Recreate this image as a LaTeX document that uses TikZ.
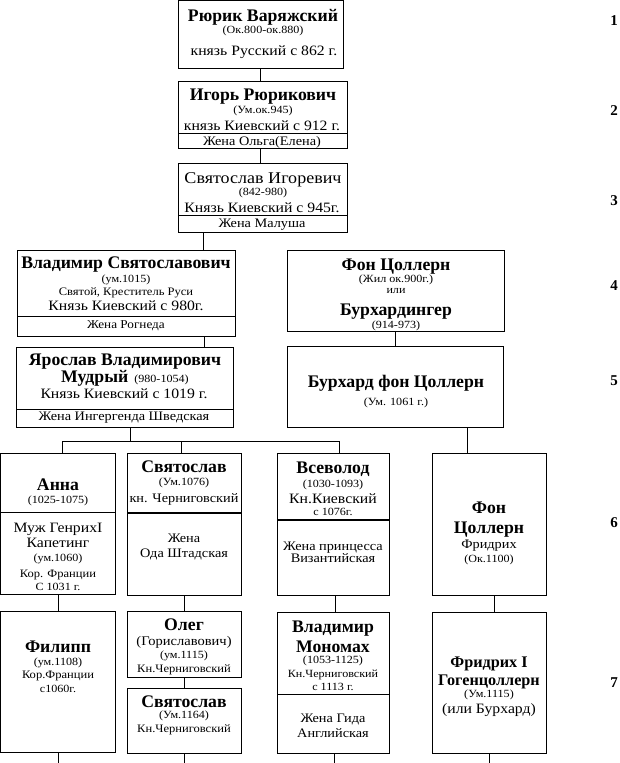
\documentclass[tikz,border=0pt]{standalone}
\usepackage{fontspec}
\setmainfont[FakeStretch=1.1]{Liberation Serif}
\newfontfamily\bname{Liberation Serif}
\begin{document}
\begin{tikzpicture}[x=1pt,y=-1pt,
  box/.style={draw,line width=1pt,inner sep=0pt,outer sep=0pt,anchor=north west},
  conn/.style={line width=1pt},
  thick div/.style={line width=2.2pt},
  nm/.style={font=\bname\fontsize{17.7}{19}\selectfont\bfseries,inner sep=0pt,anchor=base},
  nmS/.style={font=\bname\fontsize{16.2}{18}\selectfont\bfseries,inner sep=0pt,anchor=base},
  rgL/.style={font=\fontsize{16.4}{18}\selectfont,inner sep=0pt,anchor=base},
  rg/.style={font=\fontsize{14.3}{16}\selectfont,inner sep=0pt,anchor=base},
  rgS/.style={font=\fontsize{13.2}{15}\selectfont,inner sep=0pt,anchor=base},
  md/.style={font=\fontsize{13}{14}\selectfont,inner sep=0pt,anchor=base},
  mdS/.style={font=\fontsize{12}{13}\selectfont,inner sep=0pt,anchor=base},
  xs/.style={font=\fontsize{11.4}{12}\selectfont,inner sep=0pt,anchor=base},
  sm/.style={font=\fontsize{11}{12}\selectfont,inner sep=0pt,anchor=base},
  num/.style={font=\bname\fontsize{15}{16}\selectfont\bfseries,inner sep=0pt,anchor=base}]
\newcommand\mkbox[5]{%
  \pgfmathsetmacro\mybw{#4-#2}\pgfmathsetmacro\mybh{#5-#3}%
  \node[box,minimum width=\mybw pt,minimum height=\mybh pt] (#1) at (#2,#3) {};}
\newcommand\T[5]{\node[#2] (#1) at (#3,#4) {#5};}
\useasboundingbox (0,0) rectangle (620,763);
% boxes
\mkbox{b1}{178}{0.5}{343}{68}
\mkbox{b2}{178}{81}{347}{148}
\mkbox{b3}{178}{163}{347}{232}
\mkbox{b4}{17}{250}{235}{336}
\mkbox{b5}{16}{347}{233}{427}
\mkbox{z1}{287}{250}{504}{331}
\mkbox{z2}{287}{346}{503}{427}
\mkbox{a6}{0.5}{453}{115}{594}
\mkbox{s6}{127}{453}{241}{595}
\mkbox{v6}{277}{453}{389}{595}
\mkbox{f6}{432}{453}{546}{595}
\mkbox{p7}{0.5}{611}{115}{752}
\mkbox{o7}{127}{611}{241}{677}
\mkbox{s7}{127}{688}{241}{753}
\mkbox{m7}{277}{612}{389}{753}
\mkbox{f7}{432}{612}{546}{753}
% dividers
\draw[conn] (b2.west |- 0,133) -- (b2.east |- 0,133);
\draw[conn] (b3.west |- 0,215) -- (b3.east |- 0,215);
\draw[conn] (b4.west |- 0,316) -- (b4.east |- 0,316);
\draw[conn] (b5.west |- 0,409) -- (b5.east |- 0,409);
\draw[conn] (a6.west |- 0,512) -- (a6.east |- 0,512);
\draw[thick div] (s6.west |- 0,513) -- (s6.east |- 0,513);
\draw[thick div] (v6.west |- 0,520) -- (v6.east |- 0,520);
\draw[conn] (m7.west |- 0,694) -- (m7.east |- 0,694);
% connector coordinates
\coordinate (x12) at (260,0);
\coordinate (x34) at (203,0);
\coordinate (x45) at (204,0);
\coordinate (xz) at (395,0);
\coordinate (xz6) at (467,0);
\coordinate (bus5) at (130,441);
\coordinate (busL) at (62,441);
\coordinate (busM) at (181,441);
\coordinate (busR) at (339,441);
\coordinate (xa) at (58,0);
\coordinate (xs) at (184,0);
\coordinate (xv) at (335,0);
\coordinate (xf) at (494,0);
\coordinate (ea) at (58,763);
\coordinate (es) at (184,763);
\coordinate (ev) at (334,763);
\coordinate (ef) at (489,763);
% connectors
\draw[conn] (b1.south -| x12) -- (b2.north -| x12);
\draw[conn] (b2.south -| x12) -- (b3.north -| x12);
\draw[conn] (b3.south -| x34) -- (b4.north -| x34);
\draw[conn] (b4.south -| x45) -- (b5.north -| x45);
\draw[conn] (z1.south -| xz) -- (z2.north -| xz);
\draw[conn] (z2.south -| xz6) -- (f6.north -| xz6);
\draw[conn] (b5.south -| bus5) -- (bus5);
\draw[conn] (a6.north -| busL) -- (busL) -- (busR) -- (v6.north -| busR);
\draw[conn] (busM) -- (s6.north -| busM);
\draw[conn] (a6.south -| xa) -- (p7.north -| xa);
\draw[conn] (s6.south -| xs) -- (o7.north -| xs);
\draw[conn] (v6.south -| xv) -- (m7.north -| xv);
\draw[conn] (f6.south -| xf) -- (f7.north -| xf);
\draw[conn] (o7.south -| xs) -- (s7.north -| xs);
\draw[conn] (p7.south -| ea) -- (ea);
\draw[conn] (s7.south -| es) -- (es);
\draw[conn] (m7.south -| ev) -- (ev);
\draw[conn] (f7.south -| ef) -- (ef);
% texts box 1
\T{t1a}{nm}{263}{21}{Рюрик Варяжский}
\T{t1b}{sm}{263}{33}{(Ок.800-ок.880)}
\T{t1c}{rg}{264}{55}{князь Русский с 862 г.}
% box 2
\T{t2a}{nm}{263}{100}{Игорь Рюрикович}
\T{t2b}{sm}{263}{113}{(Ум.ок.945)}
\T{t2c}{rg}{262}{130}{князь Киевский с 912 г.}
\T{t2d}{md}{262}{145}{Жена Ольга(Елена)}
% box 3
\T{t3a}{rgL}{263}{183}{Святослав Игоревич}
\T{t3b}{sm}{263}{195}{(842-980)}
\T{t3c}{rg}{262}{212}{Князь Киевский с 945г.}
\T{t3d}{md}{262}{227}{Жена Малуша}
% box 4
\T{t4a}{nm}{126}{268}{Владимир Святославович}
\T{t4b}{sm}{126}{282}{(ум.1015)}
\T{t4c}{xs}{126}{295}{Святой, Креститель Руси}
\T{t4d}{rg}{126}{310}{Князь Киевский с 980г.}
\T{t4e}{mdS}{126}{328}{Жена Рогнеда}
% box 5
\T{t5a}{nm}{125}{365}{Ярослав Владимирович}
\T{t5b}{sm}{125}{382}{{\bname\fontsize{17.7}{19}\selectfont\bfseries Мудрый}\ \ (980-1054)}
\T{t5c}{rg}{124}{398}{Князь Киевский с 1019 г.}
\T{t5d}{md}{124}{420}{Жена Ингергенда Шведская}
% Zollern 1
\T{z1a}{nm}{396}{270}{Фон Цоллерн}
\T{z1b}{sm}{396}{282}{(Жил ок.900г.)}
\T{z1c}{sm}{396}{293}{или}
\T{z1d}{nm}{396}{315}{Бурхардингер}
\T{z1e}{sm}{396}{328}{(914-973)}
% Zollern 2
\T{z2a}{nm}{396}{387}{Бурхард фон Цоллерн}
\T{z2b}{sm}{396}{405}{(Ум. 1061 г.)}
% Anna
\T{a6a}{nm}{58}{490}{Анна}
\T{a6b}{sm}{58}{503}{(1025-1075)}
\T{a6c}{rg}{58}{532}{Муж ГенрихI}
\T{a6d}{rg}{58}{547}{Капетинг}
\T{a6e}{sm}{58}{561}{(ум.1060)}
\T{a6f}{xs}{58}{577}{Кор. Франции}
\T{a6g}{sm}{58}{590}{С 1031 г.}
% Svyatoslav 6
\T{s6a}{nm}{184}{472}{Святослав}
\T{s6b}{sm}{184}{485}{(Ум.1076)}
\T{s6c}{md}{184}{502}{кн. Черниговский}
\T{s6d}{md}{184}{542}{Жена}
\T{s6e}{md}{184}{557}{Ода Штадская}
% Vsevolod
\T{v6a}{nm}{333}{473}{Всеволод}
\T{v6b}{sm}{333}{487}{(1030-1093)}
\T{v6c}{rg}{333}{503}{Кн.Киевский}
\T{v6d}{sm}{333}{515}{с 1076г.}
\T{v6e}{md}{333}{550}{Жена принцесса}
\T{v6f}{md}{333}{562}{Византийская}
% Zollern 6
\T{f6a}{nm}{489}{513}{Фон}
\T{f6b}{nm}{489}{533}{Цоллерн}
\T{f6c}{md}{489}{548}{Фридрих}
\T{f6d}{sm}{489}{562}{(Ок.1100)}
% Philipp
\T{p7a}{nm}{58}{652}{Филипп}
\T{p7b}{sm}{58}{665}{(ум.1108)}
\T{p7c}{xs}{58}{678}{Кор.Франции}
\T{p7d}{sm}{58}{692}{с1060г.}
% Oleg
\T{o7a}{nm}{184}{630}{Олег}
\T{o7b}{rgS}{184}{645}{(Гориславович)}
\T{o7c}{sm}{184}{658}{(ум.1115)}
\T{o7d}{xs}{184}{672}{Кн.Черниговский}
% Svyatoslav 7
\T{s7a}{nm}{184}{707}{Святослав}
\T{s7b}{sm}{184}{718}{(Ум.1164)}
\T{s7c}{xs}{184}{732}{Кн.Черниговский}
% Monomakh
\T{m7a}{nm}{333}{632}{Владимир}
\T{m7b}{nm}{333}{652}{Мономах}
\T{m7c}{sm}{333}{663}{(1053-1125)}
\T{m7d}{sm}{333}{677}{Кн.Черниговский}
\T{m7e}{sm}{333}{690}{с 1113 г.}
\T{m7f}{md}{333}{722}{Жена Гида}
\T{m7g}{md}{333}{737}{Английская}
% Friedrich
\T{f7a}{nmS}{489}{667}{Фридрих I}
\T{f7b}{nmS}{489}{685}{Гогенцоллерн}
\T{f7c}{sm}{489}{697}{(Ум.1115)}
\T{f7d}{rg}{489}{713}{(или Бурхард)}
% generation numbers
\T{n1}{num}{614}{25}{1}
\T{n2}{num}{614}{115}{2}
\T{n3}{num}{614}{205}{3}
\T{n4}{num}{614}{290}{4}
\T{n5}{num}{614}{385}{5}
\T{n6}{num}{614}{527}{6}
\T{n7}{num}{614}{687}{7}
\end{tikzpicture}
\end{document}
